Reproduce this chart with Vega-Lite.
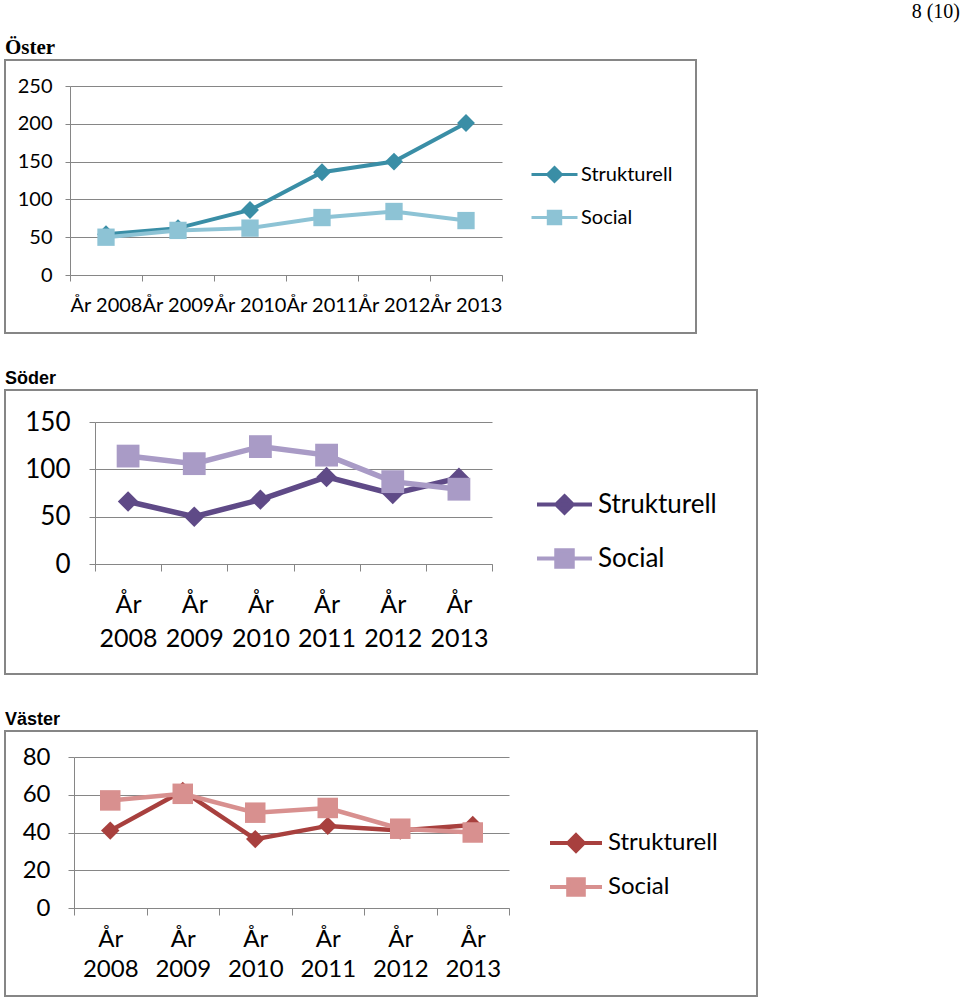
{
  "$schema": "https://vega.github.io/schema/vega-lite/v6.json",
  "padding": {"left": 4, "top": 2, "right": 0, "bottom": 0},
  "background": "white",
  "title": {"text": "8 (10)", "anchor": "end", "frame": "bounds", "dx": 202, "font": "Liberation Serif", "fontSize": 20, "fontWeight": "normal", "color": "black", "offset": 14},
  "config": {
    "view": {"stroke": "#868686", "strokeWidth": 2},
    "axis": {"domainColor": "#868686", "tickColor": "#868686", "gridColor": "#868686", "labelColor": "black", "labelFont": "Lato", "title": null}
  },
  "resolve": {"scale": {"color": "independent"}, "legend": {"color": "independent"}},
  "datasets": {
    "oster": [
      {"year": "2008", "serie": "Strukturell", "v": 54}, {"year": "2009", "serie": "Strukturell", "v": 62},
      {"year": "2010", "serie": "Strukturell", "v": 86}, {"year": "2011", "serie": "Strukturell", "v": 136},
      {"year": "2012", "serie": "Strukturell", "v": 150}, {"year": "2013", "serie": "Strukturell", "v": 201},
      {"year": "2008", "serie": "Social", "v": 50}, {"year": "2009", "serie": "Social", "v": 59},
      {"year": "2010", "serie": "Social", "v": 62}, {"year": "2011", "serie": "Social", "v": 76},
      {"year": "2012", "serie": "Social", "v": 84}, {"year": "2013", "serie": "Social", "v": 72}
    ],
    "soder": [
      {"year": "2008", "serie": "Strukturell", "v": 66}, {"year": "2009", "serie": "Strukturell", "v": 50},
      {"year": "2010", "serie": "Strukturell", "v": 68}, {"year": "2011", "serie": "Strukturell", "v": 92},
      {"year": "2012", "serie": "Strukturell", "v": 74}, {"year": "2013", "serie": "Strukturell", "v": 91},
      {"year": "2008", "serie": "Social", "v": 114}, {"year": "2009", "serie": "Social", "v": 106},
      {"year": "2010", "serie": "Social", "v": 124}, {"year": "2011", "serie": "Social", "v": 115},
      {"year": "2012", "serie": "Social", "v": 87}, {"year": "2013", "serie": "Social", "v": 79}
    ],
    "vaster": [
      {"year": "2008", "serie": "Strukturell", "v": 41}, {"year": "2009", "serie": "Strukturell", "v": 62},
      {"year": "2010", "serie": "Strukturell", "v": 36.5}, {"year": "2011", "serie": "Strukturell", "v": 43.5},
      {"year": "2012", "serie": "Strukturell", "v": 41}, {"year": "2013", "serie": "Strukturell", "v": 44},
      {"year": "2008", "serie": "Social", "v": 57}, {"year": "2009", "serie": "Social", "v": 60.5},
      {"year": "2010", "serie": "Social", "v": 50.5}, {"year": "2011", "serie": "Social", "v": 53},
      {"year": "2012", "serie": "Social", "v": 42}, {"year": "2013", "serie": "Social", "v": 40}
    ]
  },
  "spacing": 35,
  "vconcat": [
    {
      "width": 691, "height": 273,
      "title": {"text": "Öster", "anchor": "start", "frame": "group", "font": "Liberation Serif", "fontSize": 21, "fontWeight": "bold", "color": "black", "offset": 2},
      "data": {"name": "oster"},
      "encoding": {
        "x": {"field": "year", "type": "nominal", "sort": null,
          "scale": {"type": "band", "range": [65, 497], "paddingInner": 0, "paddingOuter": 0},
          "axis": {"orient": "bottom", "offset": -58, "tickBand": "extent", "tickSize": 6, "labelAngle": 0, "labelPadding": 14, "labelFontSize": 20, "labelExpr": "length(datum.label) > 0 ? 'År ' + datum.label : ''", "labelOverlap": false, "labelFlush": false, "grid": false}},
        "y": {"field": "v", "type": "quantitative",
          "scale": {"domain": [0, 250], "range": [215, 26], "nice": false},
          "axis": {"orient": "left", "offset": -65, "values": [0, 50, 100, 150, 200, 250], "grid": true, "tickSize": 5, "labelPadding": 13, "labelFontSize": 20}},
        "color": {"field": "serie", "type": "nominal", "sort": ["Strukturell", "Social"],
          "scale": {"domain": ["Strukturell", "Social"], "range": ["#3A8EA6", "#8DC3D5"]},
          "legend": {"orient": "none", "legendX": 525, "legendY": 90, "title": null, "labelFont": "Lato", "labelFontSize": 20, "labelColor": "black", "labelOffset": 2, "symbolSize": 2116, "symbolStrokeWidth": 3, "rowPadding": 5,
            "encode": {"symbols": {"update": {
              "shape": {"signal": "datum.value === 'Strukturell' ? 'M-1,0L1,0M0,-0.3L0.3,0L0,0.3L-0.3,0Z' : 'M-1,0L1,0M-0.27,-0.27L0.27,-0.27L0.27,0.27L-0.27,0.27Z'"},
              "fill": {"signal": "datum.value === 'Strukturell' ? '#3A8EA6' : '#8DC3D5'"},
              "stroke": {"signal": "datum.value === 'Strukturell' ? '#3A8EA6' : '#8DC3D5'"},
              "size": {"value": 2116},
              "strokeWidth": {"value": 3}, "opacity": {"value": 1}, "fillOpacity": {"value": 1}, "strokeOpacity": {"value": 1}}}}}}
      },
      "layer": [
        {"transform": [{"filter": "datum.serie === 'Strukturell'"}], "mark": {"type": "line", "strokeWidth": 4}},
        {"transform": [{"filter": "datum.serie === 'Strukturell'"}], "mark": {"type": "point", "shape": "diamond", "size": 320, "filled": true, "opacity": 1, "strokeWidth": 0}},
        {"transform": [{"filter": "datum.serie === 'Social'"}], "mark": {"type": "line", "strokeWidth": 4}},
        {"transform": [{"filter": "datum.serie === 'Social'"}], "mark": {"type": "point", "shape": "square", "size": 300, "filled": true, "opacity": 1, "strokeWidth": 0}}
      ]
    },
    {
      "width": 752, "height": 284,
      "title": {"text": "Söder", "anchor": "start", "frame": "group", "font": "Liberation Sans", "fontSize": 18, "fontWeight": "bold", "color": "black", "offset": 2},
      "data": {"name": "soder"},
      "encoding": {
        "x": {"field": "year", "type": "nominal", "sort": null,
          "scale": {"type": "band", "range": [90, 487], "paddingInner": 0, "paddingOuter": 0},
          "axis": {"orient": "bottom", "offset": -110, "tickBand": "extent", "tickSize": 7, "labelAngle": 0, "labelPadding": 21, "labelFontSize": 25, "labelLineHeight": 34, "labelExpr": "length(datum.label) > 0 ? ['År', datum.label] : ''", "labelOverlap": false, "labelFlush": false, "grid": false}},
        "y": {"field": "v", "type": "quantitative",
          "scale": {"domain": [0, 150], "range": [174, 32], "nice": false},
          "axis": {"orient": "left", "offset": -90, "values": [0, 50, 100, 150], "grid": true, "tickSize": 6, "labelPadding": 19, "labelFontSize": 26}},
        "color": {"field": "serie", "type": "nominal", "sort": ["Strukturell", "Social"],
          "scale": {"domain": ["Strukturell", "Social"], "range": ["#5F4A87", "#A99BC6"]},
          "legend": {"orient": "none", "legendX": 530, "legendY": 85, "title": null, "labelFont": "Lato", "labelFontSize": 26, "labelColor": "black", "labelOffset": 4, "symbolSize": 3025, "symbolStrokeWidth": 4, "rowPadding": 8,
            "encode": {"symbols": {"update": {
              "shape": {"signal": "datum.value === 'Strukturell' ? 'M-1,0L1,0M0,-0.3L0.3,0L0,0.3L-0.3,0Z' : 'M-1,0L1,0M-0.3,-0.3L0.3,-0.3L0.3,0.3L-0.3,0.3Z'"},
              "fill": {"signal": "datum.value === 'Strukturell' ? '#5F4A87' : '#A99BC6'"},
              "stroke": {"signal": "datum.value === 'Strukturell' ? '#5F4A87' : '#A99BC6'"},
              "size": {"value": 3025},
              "strokeWidth": {"value": 4}, "opacity": {"value": 1}, "fillOpacity": {"value": 1}, "strokeOpacity": {"value": 1}}}}}}
      },
      "layer": [
        {"transform": [{"filter": "datum.serie === 'Strukturell'"}], "mark": {"type": "line", "strokeWidth": 5.5}},
        {"transform": [{"filter": "datum.serie === 'Strukturell'"}], "mark": {"type": "point", "shape": "diamond", "size": 420, "filled": true, "opacity": 1, "strokeWidth": 0}},
        {"transform": [{"filter": "datum.serie === 'Social'"}], "mark": {"type": "line", "strokeWidth": 5.5}},
        {"transform": [{"filter": "datum.serie === 'Social'"}], "mark": {"type": "point", "shape": "square", "size": 520, "filled": true, "opacity": 1, "strokeWidth": 0}}
      ]
    },
    {
      "width": 752, "height": 265,
      "title": {"text": "Väster", "anchor": "start", "frame": "group", "font": "Liberation Sans", "fontSize": 18, "fontWeight": "bold", "color": "black", "offset": 2},
      "data": {"name": "vaster"},
      "encoding": {
        "x": {"field": "year", "type": "nominal", "sort": null,
          "scale": {"type": "band", "range": [69, 504], "paddingInner": 0, "paddingOuter": 0},
          "axis": {"orient": "bottom", "offset": -88, "tickBand": "extent", "tickSize": 7, "labelAngle": 0, "labelPadding": 12, "labelFontSize": 24, "labelLineHeight": 30, "labelExpr": "length(datum.label) > 0 ? ['År', datum.label] : ''", "labelOverlap": false, "labelFlush": false, "grid": false}},
        "y": {"field": "v", "type": "quantitative",
          "scale": {"domain": [0, 80], "range": [177, 26], "nice": false},
          "axis": {"orient": "left", "offset": -69, "values": [0, 20, 40, 60, 80], "grid": true, "tickSize": 6, "labelPadding": 18, "labelFontSize": 24}},
        "color": {"field": "serie", "type": "nominal", "sort": ["Strukturell", "Social"],
          "scale": {"domain": ["Strukturell", "Social"], "range": ["#A8403E", "#D8908F"]},
          "legend": {"orient": "none", "legendX": 543, "legendY": 84, "title": null, "labelFont": "Lato", "labelFontSize": 24, "labelColor": "black", "labelOffset": 4, "symbolSize": 2704, "symbolStrokeWidth": 4, "rowPadding": -1,
            "encode": {"symbols": {"update": {
              "shape": {"signal": "datum.value === 'Strukturell' ? 'M-1,0L1,0M0,-0.3L0.3,0L0,0.3L-0.3,0Z' : 'M-1,0L1,0M-0.3,-0.3L0.3,-0.3L0.3,0.3L-0.3,0.3Z'"},
              "fill": {"signal": "datum.value === 'Strukturell' ? '#A8403E' : '#D8908F'"},
              "stroke": {"signal": "datum.value === 'Strukturell' ? '#A8403E' : '#D8908F'"},
              "size": {"value": 2704},
              "strokeWidth": {"value": 4}, "opacity": {"value": 1}, "fillOpacity": {"value": 1}, "strokeOpacity": {"value": 1}}}}}}
      },
      "layer": [
        {"transform": [{"filter": "datum.serie === 'Strukturell'"}], "mark": {"type": "line", "strokeWidth": 4.5}},
        {"transform": [{"filter": "datum.serie === 'Strukturell'"}], "mark": {"type": "point", "shape": "diamond", "size": 340, "filled": true, "opacity": 1, "strokeWidth": 0}},
        {"transform": [{"filter": "datum.serie === 'Social'"}], "mark": {"type": "line", "strokeWidth": 4.5}},
        {"transform": [{"filter": "datum.serie === 'Social'"}], "mark": {"type": "point", "shape": "square", "size": 420, "filled": true, "opacity": 1, "strokeWidth": 0}}
      ]
    }
  ]
}
